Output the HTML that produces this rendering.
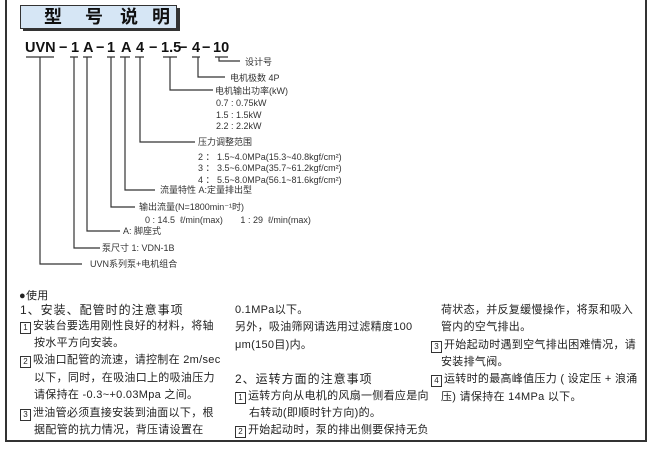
<!DOCTYPE html>
<html><head><meta charset="utf-8"><style>
body{margin:0;width:648px;height:455px;background:#fff;position:relative;overflow:hidden;font-family:"Liberation Sans","Noto Sans CJK SC",sans-serif;color:#222}
.t{position:absolute;white-space:nowrap;line-height:14px;font-size:9px;color:#333}
.m{position:absolute;white-space:nowrap;line-height:16px;font-size:11px;letter-spacing:0.3px;color:#222}
.b{display:inline-block;width:9px;height:10px;border:1px solid #333;font-size:8px;line-height:10px;text-align:center;margin-right:2px;vertical-align:-1px;letter-spacing:0}
</style></head><body>
<div style="position:absolute;left:5px;top:-2px;width:638px;height:442px;border:2px solid #333;border-top:none"></div>
<div style="position:absolute;left:23px;top:8px;width:157px;height:23px;background:#333"></div>
<div style="position:absolute;left:20px;top:5px;width:155px;height:22px;background:#d6e6f5;border:1px solid #333;font-weight:bold;font-size:18px;line-height:22px;font-family:'Liberation Sans','Noto Sans CJK SC',sans-serif;color:#111">
<span style="position:absolute;left:23px">型</span><span style="position:absolute;left:64px">号</span><span style="position:absolute;left:99px">说</span><span style="position:absolute;left:131px">明</span></div>
<svg style="position:absolute;left:0;top:0" width="648" height="455">
<g font-family="Liberation Sans,sans-serif" font-weight="bold" font-size="14.5" fill="#111">
<text x="25" y="52">UVN</text><text x="59" y="52">−</text><text x="71" y="52">1</text><text x="83" y="52">A</text>
<text x="96" y="52">−</text><text x="107" y="52">1</text><text x="121" y="52">A</text><text x="136" y="52">4</text>
<text x="149" y="52">−</text><text x="161" y="52">1.5</text><text x="179" y="52">−</text><text x="192" y="52">4</text>
<text x="202" y="52">−</text><text x="213" y="52">10</text></g>
<g stroke="#333" stroke-width="1.2" fill="none">
<path d="M26 57H54M70 57H78M83 57H92M107 57H115M120 57H130M135 57H144M163 57H177M192 57H200M215 57H228"/>
<path d="M219 57V61H240M198 57V77H225M170 57V90H213M140 57V142H195M125 57V190H155M111 57V207H135M87 57V231H120M74 57V248H100M40 57V264H82"/>
</g></svg>
<div class="t" style="left:245px;top:55px">设计号</div>
<div class="t" style="left:230px;top:71px">电机极数 4P</div>
<div class="t" style="left:215px;top:84px">电机输出功率(kW)</div>
<div class="t" style="left:216px;top:96px">0.7 : 0.75kW</div>
<div class="t" style="left:216px;top:108px">1.5 : 1.5kW</div>
<div class="t" style="left:216px;top:119px">2.2 : 2.2kW</div>
<div class="t" style="left:198px;top:135px">压力调整范围</div>
<div class="t" style="left:198px;top:150px">2 ： 1.5~4.0MPa(15.3~40.8kgf/cm²)</div>
<div class="t" style="left:198px;top:161px">3 ： 3.5~6.0MPa(35.7~61.2kgf/cm²)</div>
<div class="t" style="left:198px;top:173px">4 ： 5.5~8.0MPa(56.1~81.6kgf/cm²)</div>
<div class="t" style="left:160px;top:183px">流量特性 A:定量排出型</div>
<div class="t" style="left:139px;top:200px">输出流量(N=1800min⁻¹时)</div>
<div class="t" style="left:145px;top:213px">0 : 14.5 &nbsp;ℓ/min(max) &nbsp; &nbsp; &nbsp; 1 : 29 &nbsp;ℓ/min(max)</div>
<div class="t" style="left:123px;top:224px">A: 脚座式</div>
<div class="t" style="left:102px;top:241px">泵尺寸 1: VDN-1B</div>
<div class="t" style="left:90px;top:257px">UVN系列泵+电机组合</div>

<div class="m" style="left:19px;top:288px">●使用</div>
<div class="m" style="left:20px;top:302px;font-size:12px;letter-spacing:1px">1、安装、配管时的注意事项</div>
<div class="m" style="left:20px;top:318px"><span class="b">1</span>安装台要选用刚性良好的材料，将轴</div>
<div class="m" style="left:34px;top:335px">按水平方向安装。</div>
<div class="m" style="left:20px;top:352px"><span class="b">2</span>吸油口配管的流速，请控制在 2m/sec</div>
<div class="m" style="left:34px;top:370px">以下，同时，在吸油口上的吸油压力</div>
<div class="m" style="left:34px;top:387px">请保持在 -0.3~+0.03Mpa 之间。</div>
<div class="m" style="left:20px;top:405px"><span class="b">3</span>泄油管必须直接安装到油面以下，根</div>
<div class="m" style="left:34px;top:422px">据配管的抗力情况，背压请设置在</div>

<div class="m" style="left:235px;top:302px">0.1MPa以下。</div>
<div class="m" style="left:235px;top:319px">另外，吸油筛网请选用过滤精度100</div>
<div class="m" style="left:235px;top:337px">μm(150目)内。</div>
<div class="m" style="left:235px;top:371px;font-size:12px;letter-spacing:1px">2、运转方面的注意事项</div>
<div class="m" style="left:235px;top:388px"><span class="b">1</span>运转方向从电机的风扇一侧看应是向</div>
<div class="m" style="left:249px;top:405px">右转动(即顺时针方向)的。</div>
<div class="m" style="left:235px;top:422px"><span class="b">2</span>开始起动时，泵的排出侧要保持无负</div>

<div class="m" style="left:441px;top:302px">荷状态，并反复缓慢操作，将泵和吸入</div>
<div class="m" style="left:441px;top:319px">管内的空气排出。</div>
<div class="m" style="left:431px;top:337px"><span class="b">3</span>开始起动时遇到空气排出困难情况，请</div>
<div class="m" style="left:441px;top:354px">安装排气阀。</div>
<div class="m" style="left:431px;top:371px"><span class="b">4</span>运转时的最高峰值压力 ( 设定压 + 浪涌</div>
<div class="m" style="left:441px;top:389px">压) 请保持在 14MPa 以下。</div>
</body></html>
